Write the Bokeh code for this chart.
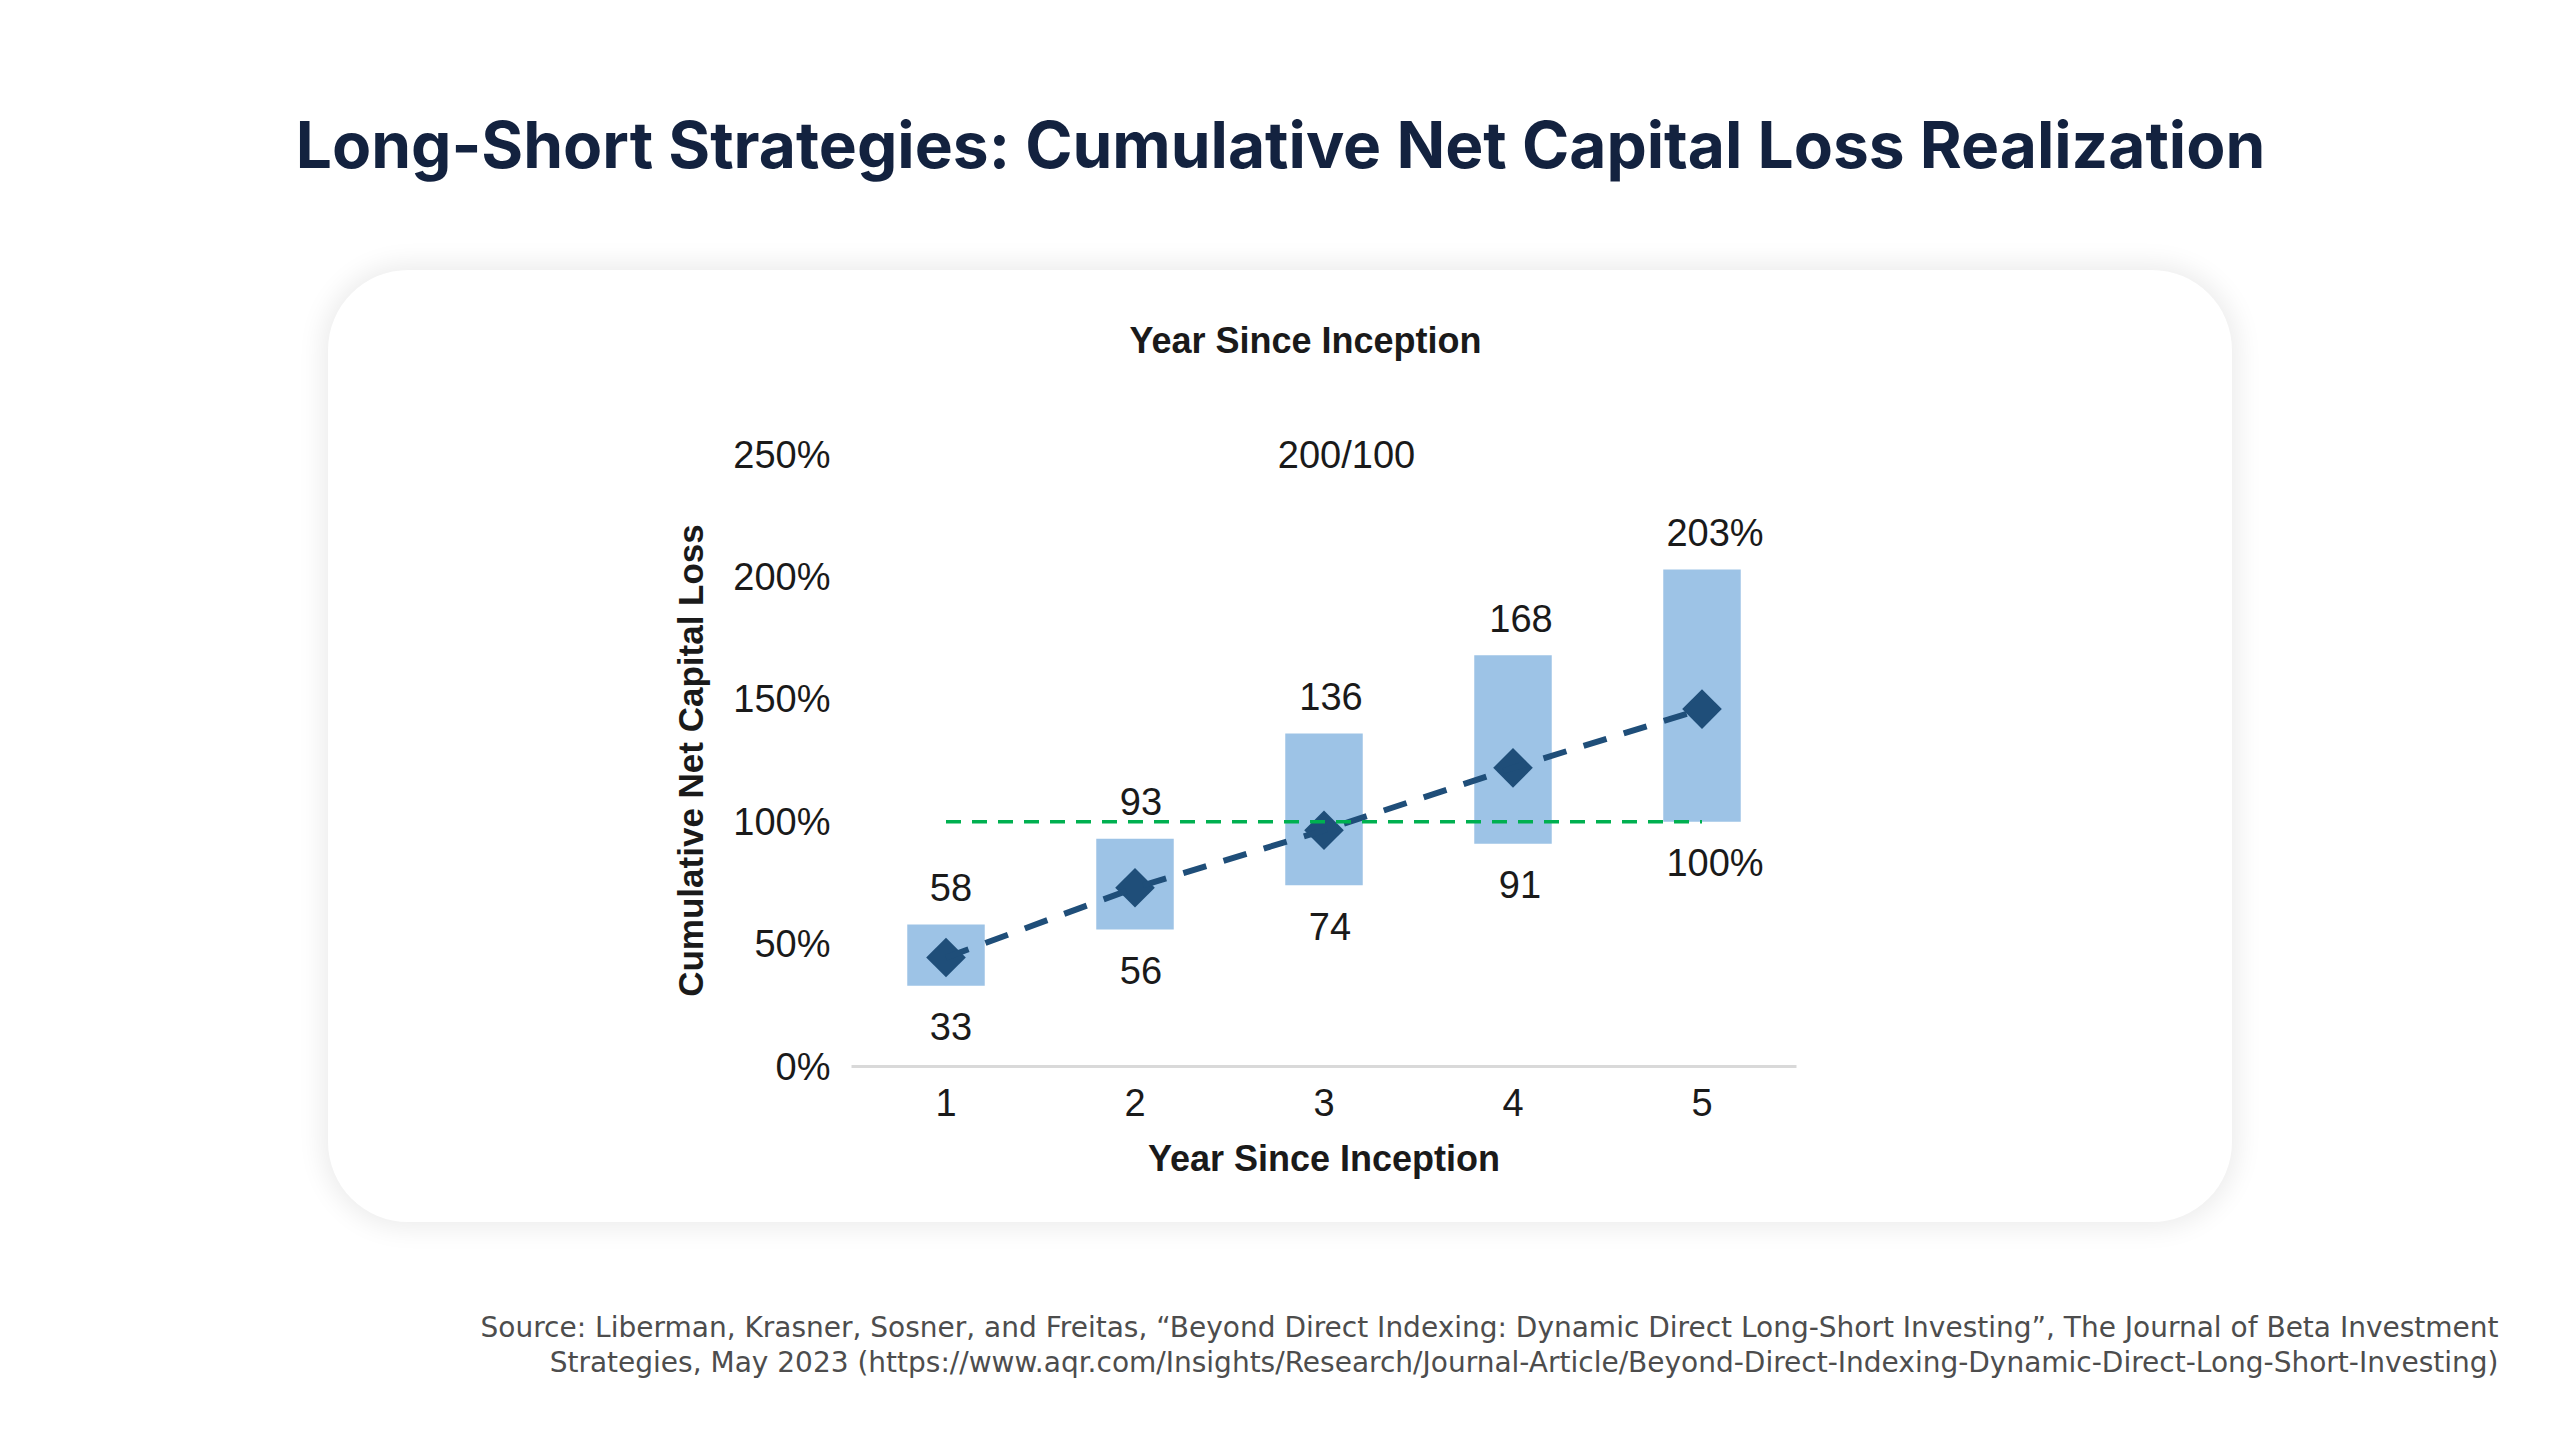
import numpy as np
from bokeh.plotting import figure
from bokeh.layouts import column
from bokeh.models import Range1d, FixedTicker, PrintfTickFormatter, ColumnDataSource
from bokeh.embed import file_html
from bokeh.resources import INLINE
from bokeh.core.properties import value

# ---------------- data ----------------
years = [1, 2, 3, 4, 5]
low = [33, 56, 74, 91, 100]
high = [58, 93, 136, 168, 203]
mean = [44.5, 73, 96.5, 122, 146]
low_labels = ["33", "56", "74", "91", "100%"]
high_labels = ["58", "93", "136", "168", "203%"]
y_ticks = [0, 50, 100, 150, 200, 250]
x_ticks = [1, 2, 3, 4, 5]
breakeven = 100
scenario_label = "200/100"
title_text = "Long-Short Strategies: Cumulative Net Capital Loss Realization"
x_title = "Year Since Inception"
y_title = "Cumulative Net Capital Loss"
source_lines = [
    "Source: Liberman, Krasner, Sosner, and Freitas, \u201cBeyond Direct Indexing: Dynamic Direct Long-Short Investing\u201d, The Journal of Beta Investment",
    "Strategies, May 2023 (https://www.aqr.com/Insights/Research/Journal-Article/Beyond-Direct-Indexing-Dynamic-Direct-Long-Short-Investing)",
]

SANS = value("Liberation Sans")
TXT = "#1a1a1a"


def blank(width, height, **kw):
    f = figure(width=width, height=height, x_range=Range1d(0, width), y_range=Range1d(height, 0),
               x_axis_type=None, y_axis_type=None, output_backend="svg", toolbar_location=None,
               min_border=0, outline_line_color=None, background_fill_color=None,
               border_fill_color=None, frame_align=False, **kw)
    return f


# ---------------- page title ----------------
t = blank(2560, 270)
t.text(x=[1280], y=[144], text=[title_text], text_align="center", text_baseline="middle",
       text_font=value("Inter"), text_font_style="bold", text_font_size="64px",
       text_color="#13223f")

# ---------------- chart card ----------------
# header strip of the card (top title + scenario tag), overlapping the plot's top edge
h = blank(1904, 208)
h.text(x=[977], y=[70], text=[x_title], text_align="center", text_baseline="middle",
       text_font=SANS, text_font_style="bold", text_font_size="36px", text_color=TXT)
h.text(x=[1018], y=[184], text=[scenario_label], text_align="center", text_baseline="middle",
       text_font=SANS, text_font_size="38px", text_color=TXT)

p = figure(width=1904, height=792, x_range=Range1d(0.5, 5.5), y_range=Range1d(0, 250),
           output_backend="svg", toolbar_location=None, frame_align=False,
           min_border_left=523, min_border_right=436, min_border_top=24, min_border_bottom=156,
           background_fill_color=None, border_fill_color=None, outline_line_color=None,
           margin=(-48, 0, 0, 0))
p.grid.grid_line_color = None

hi_dx = [5, 6, 7, 8, 13]
lo_dx = [5, 6, 6, 7, 13]
src = ColumnDataSource(dict(x=years, low=low, high=high, mean=mean,
                            lo_t=low_labels, hi_t=high_labels, hi_dx=hi_dx, lo_dx=lo_dx))

p.vbar(x="x", bottom="low", top="high", width=0.41, source=src,
       fill_color="#9DC3E6", line_color=None)
p.scatter(x="x", y="mean", source=src, marker="square", size=28, angle=np.pi / 4,
          fill_color="#1F4E79", line_color=None)
p.line(x="x", y="mean", source=src, line_color="#1F4E79", line_width=6, line_dash="24 18")
p.line(x=[years[0], years[-1]], y=[breakeven, breakeven], line_color="#00B050",
       line_width=3.5, line_dash="15 11")

p.text(x="x", y="high", text="hi_t", source=src, x_offset="hi_dx", y_offset=-37,
       text_align="center", text_baseline="middle", text_font=SANS,
       text_font_size="38px", text_color=TXT)
p.text(x="x", y="low", text="lo_t", source=src, x_offset="lo_dx", y_offset=41,
       text_align="center", text_baseline="middle", text_font=SANS,
       text_font_size="38px", text_color=TXT)

# axes
xa = p.xaxis[0]
xa.ticker = FixedTicker(ticks=x_ticks)
xa.axis_line_color = "#d9d9d9"
xa.axis_line_width = 3
xa.major_tick_line_color = None
xa.minor_tick_line_color = None
xa.major_tick_in = 0
xa.major_tick_out = 0
xa.major_label_standoff = 22
xa.major_label_text_font = "Liberation Sans"
xa.major_label_text_font_size = "38px"
xa.major_label_text_color = TXT
xa.axis_label = x_title
xa.axis_label_text_font = "Liberation Sans"
xa.axis_label_text_font_style = "bold"
xa.axis_label_text_font_size = "36px"
xa.axis_label_text_color = TXT
xa.axis_label_standoff = 19

ya = p.yaxis[0]
ya.ticker = FixedTicker(ticks=y_ticks)
ya.formatter = PrintfTickFormatter(format="%d%%")
ya.axis_line_color = None
ya.major_tick_line_color = None
ya.minor_tick_line_color = None
ya.major_tick_in = 0
ya.major_tick_out = 0
ya.major_label_standoff = 21
ya.major_label_text_font = "Liberation Sans"
ya.major_label_text_font_size = "38px"
ya.major_label_text_color = TXT
ya.axis_label = y_title
ya.axis_label_text_font = "Liberation Sans"
ya.axis_label_text_font_style = "bold"
ya.axis_label_text_font_size = "35px"
ya.axis_label_text_color = TXT
ya.axis_label_standoff = 20

card = column(h, p, spacing=0, margin=(0, 0, 0, 328),
              styles={"border-radius": "80px", "background-color": "white",
                      "box-shadow": "0 0 26px 6px rgba(0,0,0,0.08)"})

# ---------------- source note ----------------
s = blank(2560, 218)
s.text(x=[2498, 2498], y=[105, 140], text=source_lines, text_align="right",
       text_baseline="middle", text_font=value("DejaVu Sans"), text_font_size="28px",
       text_color="#4d4d4d")

root = column(t, card, s, spacing=0)
open("out.html", "w").write(file_html(root, INLINE))
